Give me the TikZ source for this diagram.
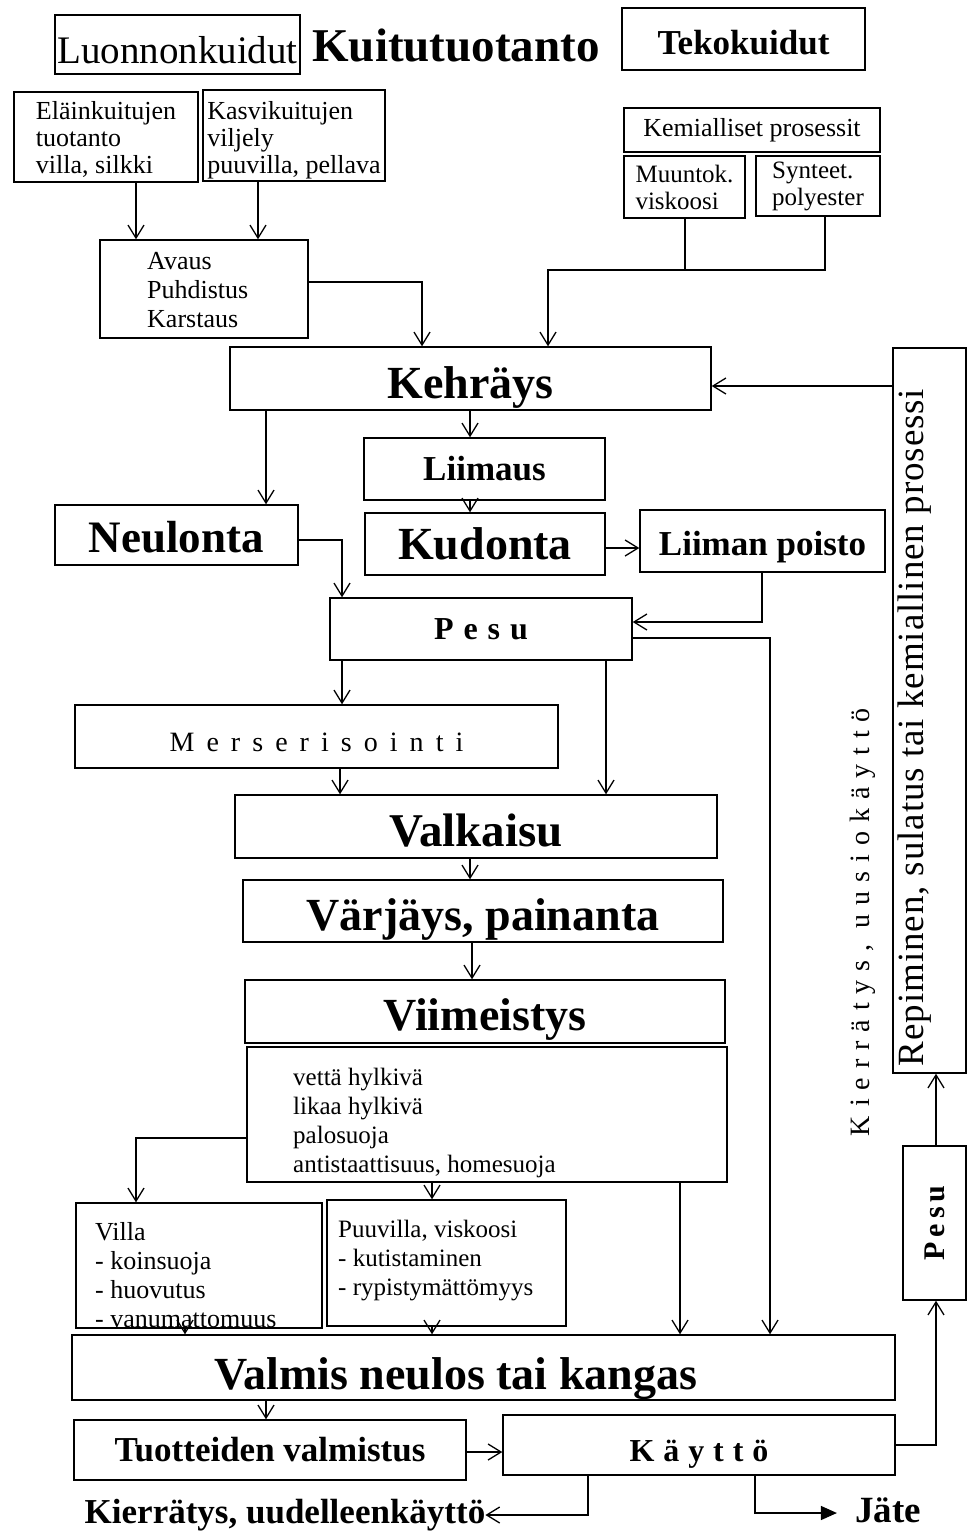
\documentclass[tikz,border=0pt]{standalone}
\usepackage{graphicx}
\usepackage{fontspec}
\setmainfont{Liberation Serif}
\usetikzlibrary{arrows.meta}
\newcommand{\fs}[2]{\fontsize{#1}{#2}\selectfont}
\newcommand{\dn}[2]{\raisebox{-#1}[\height][\depth]{#2}}
\newcommand{\up}[2]{\raisebox{#1}[\height][\depth]{#2}}
\begin{document}
\begin{tikzpicture}[x=1pt,y=-1pt,
 bx/.style={draw, line width=1.4pt, inner sep=0pt, align=center},
 bxl/.style={bx, align=left},
 arr/.style={line width=1.3pt, -{Straight Barb[length=13pt,width=16pt]}},
 ln/.style={line width=1.3pt},
 txt/.style={inner sep=0pt, align=left}]
\useasboundingbox (0,0) rectangle (967,1535);

% header
\node[bx, minimum width=245, minimum height=59, font=\fs{39}{41}] (luon) at (177.5,44.5) {\dn{6pt}{Luonnonkuidut}};
\node[inner sep=0pt, font=\bfseries\fs{47}{50}] (kuitu) at (456,45) {Kuitutuotanto};
\node[bx, minimum width=243, minimum height=62, font=\bfseries\fs{35}{38}] (teko) at (743.5,39) {\dn{4pt}{Tekokuidut}};

% sources
\node[bxl, minimum width=184, minimum height=90, font=\fs{26}{27}] (elain) at (106,137) {\dn{4pt}{\begin{tabular}{@{}l@{}}Eläinkuitujen\\tuotanto\\villa, silkki\end{tabular}}};
\node[bxl, minimum width=182, minimum height=91, font=\fs{26}{27}] (kasvi) at (294,135.5) {\dn{6pt}{\begin{tabular}{@{}l@{}}Kasvikuitujen\\viljely\\puuvilla, pellava\end{tabular}}};
\node[bx, minimum width=256, minimum height=44, font=\fs{26}{28}] (kemia) at (752,130) {Kemialliset prosessit};
\node[bxl, minimum width=121, minimum height=62, font=\fs{25}{27}] (muun) at (684.5,187) {Muuntok.\\viskoosi};
\node[bxl, minimum width=124, minimum height=60, font=\fs{25}{27}] (synt) at (818,186) {Synteet.\\polyester};
\node[bx, minimum width=208, minimum height=98] (avaus) at (204,289) {};
\node[txt, anchor=north west, font=\fs{26}{29}] (avaustxt) at (147,252) {Avaus\\Puhdistus\\Karstaus};

% main chain
\node[bx, minimum width=481, minimum height=63, font=\bfseries\fs{46}{48}] (kehr) at (470.5,378.5) {\dn{9pt}{Kehräys}};
\node[bx, minimum width=725, minimum height=73, rotate=90, font=\fs{37}{39}\addfontfeatures{LetterSpace=2.5}] (repi) at (929.5,710.5) {\up{15pt}{\hspace*{-34pt}Repiminen, sulatus tai kemiallinen prosessi}};
\node[bx, minimum width=241, minimum height=62, font=\bfseries\fs{35}{37}] (liim) at (484.5,469) {Liimaus};
\node[bx, minimum width=243, minimum height=60, font=\bfseries\fs{45}{47}] (neul) at (176.5,535) {\dn{2pt}{Neulonta}};
\node[bx, minimum width=240, minimum height=62, font=\bfseries\fs{46}{48}] (kudo) at (485,544) {Kudonta};
\node[bx, minimum width=245, minimum height=62, font=\bfseries\fs{35}{37}] (lpoi) at (762.5,541) {\dn{6pt}{Liiman poisto}};
\node[bx, minimum width=302, minimum height=62, font=\bfseries\fs{32}{34}\addfontfeatures{LetterSpace=31}] (pesu) at (481,629) {Pesu};
\node[bx, minimum width=483, minimum height=63, font=\fs{28}{30}\addfontfeatures{LetterSpace=43}] (mers) at (316.5,736.5) {\dn{6pt}{Merserisointi}};
\node[bx, minimum width=482, minimum height=63, font=\bfseries\fs{47}{49}] (valk) at (476,826.5) {\dn{4pt}{Valkaisu}};
\node[bx, minimum width=480, minimum height=62, font=\bfseries\fs{46}{48}] (varj) at (483,911) {\dn{8pt}{Värjäys, painanta}};
\node[bx, minimum width=480, minimum height=63, font=\bfseries\fs{46}{48}] (viim) at (485,1011.5) {\dn{8pt}{Viimeistys}};
\node[bx, minimum width=480, minimum height=135] (list) at (487,1114.5) {};
\node[txt, anchor=north west, font=\fs{25}{29}] (listtxt) at (293,1068) {vettä hylkivä\\likaa hylkivä\\palosuoja\\antistaattisuus, homesuoja};
\node[bx, minimum width=246, minimum height=125] (villa) at (199,1265.5) {};
\node[txt, anchor=north west, font=\fs{26}{29}] (villatxt) at (95,1222) {Villa\\- koinsuoja\\- huovutus\\- vanumattomuus};
\node[bx, minimum width=239, minimum height=126] (puuv) at (446.5,1263) {};
\node[txt, anchor=north west, font=\fs{25}{29}] (puuvtxt) at (338,1220) {Puuvilla, viskoosi\\- kutistaminen\\- rypistymättömyys};
\node[bx, minimum width=823, minimum height=65] (valm) at (483.5,1367.5) {};
\node[inner sep=0pt, anchor=base, font=\bfseries\fs{46}{48}] (valmtxt) at (456,1389) {Valmis neulos tai kangas};
\node[bx, minimum width=392, minimum height=60, font=\bfseries\fs{35}{37}] (tuot) at (270,1450) {Tuotteiden valmistus};
\node[bx, minimum width=392, minimum height=60, font=\bfseries\fs{32}{34}\addfontfeatures{LetterSpace=28}] (kayt) at (699,1445) {\dn{9pt}{Käyttö}};
\node[bx, minimum width=154, minimum height=63, rotate=90, font=\bfseries\fs{30}{32}\addfontfeatures{LetterSpace=16}] (pesu2) at (934.5,1223) {Pesu};
\node[inner sep=0pt, rotate=90, font=\fs{28}{30}\addfontfeatures{LetterSpace=32}] (kierr1) at (863,922) {Kierrätys, uusiokäyttö};
\node[inner sep=0pt, font=\bfseries\fs{35}{37}] (kierr2) at (285,1515) {Kierrätys, uudelleenkäyttö};
\node[inner sep=0pt, font=\bfseries\fs{37}{39}] (jate) at (888,1510) {Jäte};

% connectors
\draw[arr] (136,0 |- elain.south) -- (136,0 |- avaus.north);
\draw[arr] (258,0 |- kasvi.south) -- (258,0 |- avaus.north);
\draw[arr] (avaus.east |- 0,282) -- (422,282) -- (422,0 |- kehr.north);
\draw[ln] (685,0 |- muun.south) -- (685,270) -- (825,270) -- (825,0 |- synt.south);
\coordinate (join) at (685,270);
\draw[arr] (join) -- (548,270) -- (548,0 |- kehr.north);
\draw[arr] (repi.north |- 0,386) -- (kehr.east |- 0,386);
\draw[arr] (470,0 |- kehr.south) -- (470,0 |- liim.north);
\draw[arr] (266,0 |- kehr.south) -- (266,0 |- neul.north);
\draw[arr] (470,0 |- liim.south) -- (470,0 |- kudo.north);
\draw[arr] (kudo.east |- 0,548) -- (lpoi.west |- 0,548);
\draw[arr] (neul.east |- 0,540) -- (342,540) -- (342,0 |- pesu.north);
\draw[arr] (762,0 |- lpoi.south) -- (762,622) -- (pesu.east |- 0,622);
\draw[arr] (pesu.east |- 0,638) -- (770,638) -- (770,0 |- valm.north);
\draw[arr] (342,0 |- pesu.south) -- (342,0 |- mers.north);
\draw[arr] (606,0 |- pesu.south) -- (606,0 |- valk.north);
\draw[arr] (340,0 |- mers.south) -- (340,0 |- valk.north);
\draw[arr] (470,0 |- valk.south) -- (470,0 |- varj.north);
\draw[arr] (472,0 |- varj.south) -- (472,0 |- viim.north);
\draw[arr] (list.west |- 0,1138) -- (136,1138) -- (136,0 |- villa.north);
\draw[arr] (432,0 |- list.south) -- (432,0 |- puuv.north);
\draw[arr] (680,0 |- list.south) -- (680,0 |- valm.north);
\draw[arr] (185,0 |- villa.south) -- (185,0 |- valm.north);
\draw[arr] (432,0 |- puuv.south) -- (432,0 |- valm.north);
\draw[arr] (266,0 |- valm.south) -- (266,0 |- tuot.north);
\draw[arr] (tuot.east |- 0,1452) -- (kayt.west |- 0,1452);
\draw[arr] (kayt.east |- 0,1445) -- (936,1445) -- (936,0 |- pesu2.west);
\draw[arr] (936,0 |- pesu2.east) -- (936,0 |- repi.west);
\draw[arr] (588,0 |- kayt.south) -- (588,1515) -- (kierr2.east);
\draw[line width=1.3pt, -{Triangle[length=16pt,width=14pt]}, shorten >=18pt] (755,0 |- kayt.south) -- (755,1513) -- (jate.west |- 0,1513);
\end{tikzpicture}
\end{document}
